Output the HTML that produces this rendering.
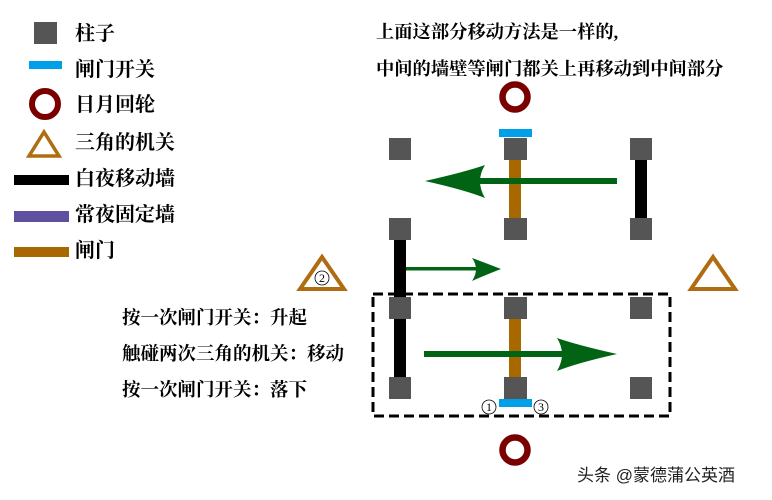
<!DOCTYPE html>
<html><head><meta charset="utf-8"><style>
html,body{margin:0;padding:0;background:#fff;}
svg{display:block;}
.t{font-family:"Liberation Serif","Noto Serif CJK SC",serif;font-weight:bold;fill:#000;}
</style></head><body>
<svg width="772" height="500" viewBox="0 0 772 500" xmlns="http://www.w3.org/2000/svg">
<!-- legend -->
<rect x="34" y="22" width="23" height="22" fill="#555"/>
<rect x="29" y="61" width="33" height="8" fill="#00a0e8"/>
<circle cx="45" cy="104" r="13" fill="none" stroke="#7a0000" stroke-width="6"/>
<polygon points="44,132 29,156 59,156" fill="none" stroke="#b06c10" stroke-width="3.5"/>
<rect x="14" y="175" width="55" height="10" fill="#000"/>
<rect x="14" y="211" width="55" height="11" fill="#5f4fa0"/>
<rect x="14" y="247" width="55" height="10" fill="#a86800"/>
<g class="t" font-size="20">
<text x="75" y="40">柱子</text>
<text x="75" y="76">闸门开关</text>
<text x="75" y="111">日月回轮</text>
<text x="75" y="149">三角的机关</text>
<text x="75" y="185">白夜移动墙</text>
<text x="75" y="221">常夜固定墙</text>
<text x="75" y="257">闸门</text>
</g>
<g class="t" font-size="18.3">
<text x="376" y="38">上面这部分移动方法是一样的,</text>
<text x="376" y="75">中间的墙壁等闸门都关上再移动到中间部分</text>
</g>
<g class="t" font-size="18.5">
<text x="122" y="324">按一次闸门开关：升起</text>
<text x="122" y="360">触碰两次三角的机关：移动</text>
<text x="122" y="396">按一次闸门开关：落下</text>
</g>
<!-- rings -->
<circle cx="515" cy="97" r="12.5" fill="none" stroke="#7a0000" stroke-width="6.5"/>
<circle cx="515" cy="450" r="12.5" fill="none" stroke="#7a0000" stroke-width="6.5"/>
<!-- walls/gates -->
<rect x="509" y="158" width="12" height="62" fill="#a86800"/>
<rect x="509" y="317" width="12" height="62" fill="#a86800"/>
<rect x="635" y="158" width="12" height="62" fill="#000"/>
<rect x="394" y="237" width="12" height="142" fill="#000"/>
<!-- dashed rect -->
<rect x="373" y="294" width="297" height="122" fill="none" stroke="#000" stroke-width="3" stroke-dasharray="10,5"/>
<!-- pillars -->
<g fill="#555">
<rect x="389" y="138" width="22" height="22"/><rect x="504" y="138" width="23" height="22"/><rect x="630" y="138" width="22" height="22"/>
<rect x="389" y="218" width="22" height="22"/><rect x="504" y="218" width="23" height="22"/><rect x="630" y="218" width="22" height="22"/>
<rect x="389" y="297" width="22" height="22"/><rect x="504" y="297" width="23" height="22"/><rect x="630" y="297" width="22" height="22"/>
<rect x="389" y="377" width="22" height="22"/><rect x="504" y="377" width="23" height="22"/><rect x="630" y="377" width="22" height="22"/>
</g>
<!-- switches -->
<rect x="499" y="129" width="33" height="8" fill="#00a0e8"/>
<rect x="499" y="399" width="33" height="8" fill="#00a0e8"/>
<!-- arrows -->
<g fill="#006414">
<rect x="470" y="178" width="147" height="6"/>
<path d="M425,181 Q465,172 485,165 Q475,181 485,198 Q465,190 425,181 Z"/>
<rect x="406" y="267" width="75" height="3.5"/>
<path d="M501,269 Q483,262 472,258 Q480,269 472,281 Q483,276 501,269 Z"/>
<rect x="424" y="351" width="150" height="6"/>
<path d="M617,354 Q577,345 557,338 Q567,354 557,371 Q577,363 617,354 Z"/>
</g>
<!-- triangles -->
<polygon points="322,257 300,289 344,289" fill="none" stroke="#b06c10" stroke-width="4"/>
<polygon points="713,257 691,289 735,289" fill="none" stroke="#b06c10" stroke-width="4"/>
<g font-family="Liberation Serif,DejaVu Serif,serif" font-size="12" fill="#000" text-anchor="middle">
<circle cx="322" cy="278" r="7" fill="#fff" stroke="#000" stroke-width="0.8"/><text x="322" y="282">2</text>
<circle cx="489" cy="407" r="7" fill="#fff" stroke="#000" stroke-width="0.8"/><text x="489" y="411">1</text>
<circle cx="541" cy="407" r="7" fill="#fff" stroke="#000" stroke-width="0.8"/><text x="541" y="411">3</text>
</g>
<text x="577" y="481" font-family="Liberation Sans,Noto Sans CJK SC,sans-serif" font-size="17" fill="#222">头条 @蒙德蒲公英酒</text>
</svg>
</body></html>
